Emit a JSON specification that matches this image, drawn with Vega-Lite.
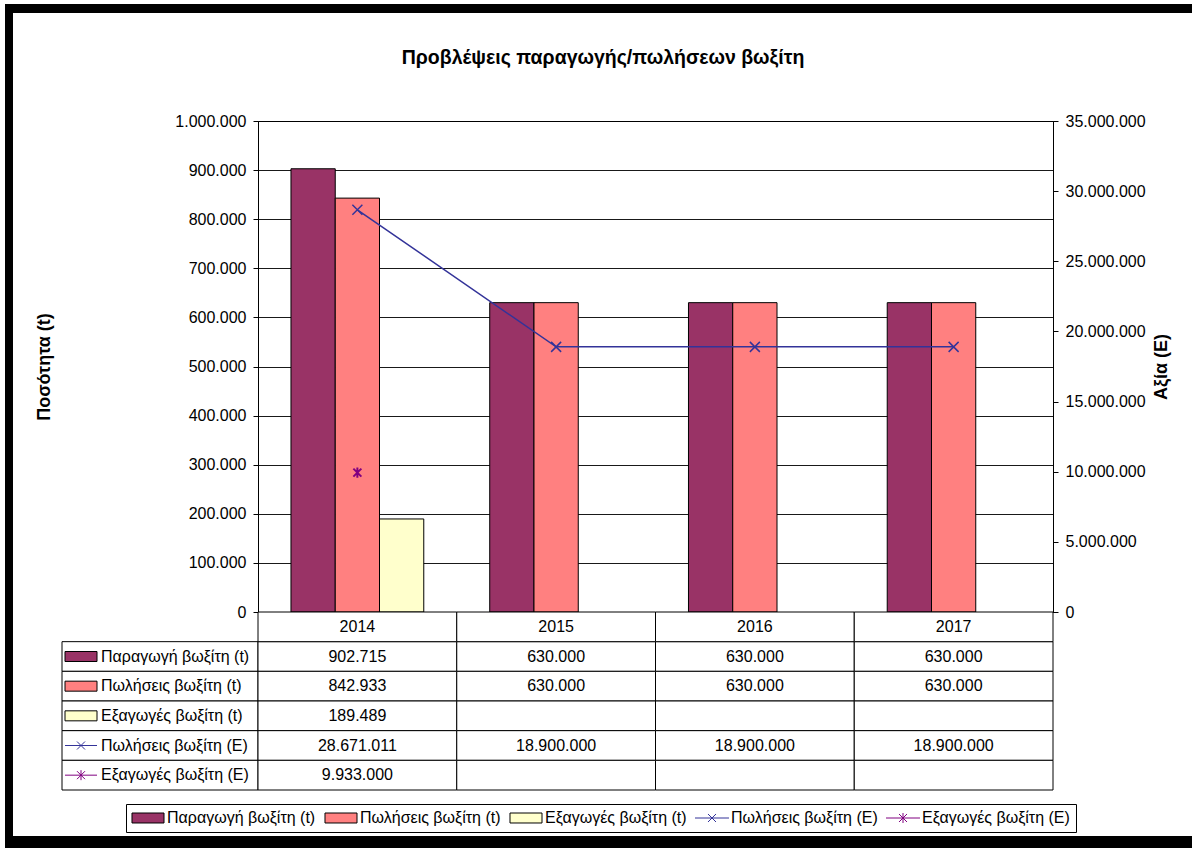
{
  "$schema": "https://vega.github.io/schema/vega-lite/v6.json",
  "padding": {"left": 5, "top": 4, "right": 0, "bottom": 0},
  "background": "white",
  "config": {
    "font": "Liberation Sans",
    "view": {"stroke": null},
    "locale": {"number": {"decimal": ",", "thousands": ".", "grouping": [3], "currency": ["", " €"]}},
    "axis": {"labelFont": "Liberation Sans", "titleFont": "Liberation Sans", "labelColor": "black", "titleColor": "black", "labelFontSize": 16, "titleFontSize": 16, "domainColor": "black", "tickColor": "black"},
    "text": {"font": "Liberation Sans"}
  },
  "datasets": {
    "main": [
      {"year": "2014", "series": "Παραγωγή βωξίτη (t)", "value": 902715},
      {"year": "2014", "series": "Πωλήσεις βωξίτη (t)", "value": 842933},
      {"year": "2014", "series": "Εξαγωγές βωξίτη (t)", "value": 189489},
      {"year": "2014", "series": "Πωλήσεις βωξίτη (Ε)", "value": 28671011},
      {"year": "2014", "series": "Εξαγωγές βωξίτη (Ε)", "value": 9933000},
      {"year": "2015", "series": "Παραγωγή βωξίτη (t)", "value": 630000},
      {"year": "2015", "series": "Πωλήσεις βωξίτη (t)", "value": 630000},
      {"year": "2015", "series": "Εξαγωγές βωξίτη (t)", "value": null},
      {"year": "2015", "series": "Πωλήσεις βωξίτη (Ε)", "value": 18900000},
      {"year": "2015", "series": "Εξαγωγές βωξίτη (Ε)", "value": null},
      {"year": "2016", "series": "Παραγωγή βωξίτη (t)", "value": 630000},
      {"year": "2016", "series": "Πωλήσεις βωξίτη (t)", "value": 630000},
      {"year": "2016", "series": "Εξαγωγές βωξίτη (t)", "value": null},
      {"year": "2016", "series": "Πωλήσεις βωξίτη (Ε)", "value": 18900000},
      {"year": "2016", "series": "Εξαγωγές βωξίτη (Ε)", "value": null},
      {"year": "2017", "series": "Παραγωγή βωξίτη (t)", "value": 630000},
      {"year": "2017", "series": "Πωλήσεις βωξίτη (t)", "value": 630000},
      {"year": "2017", "series": "Εξαγωγές βωξίτη (t)", "value": null},
      {"year": "2017", "series": "Πωλήσεις βωξίτη (Ε)", "value": 18900000},
      {"year": "2017", "series": "Εξαγωγές βωξίτη (Ε)", "value": null}
    ],
    "series": [
      {"series": "Παραγωγή βωξίτη (t)"},
      {"series": "Πωλήσεις βωξίτη (t)"},
      {"series": "Εξαγωγές βωξίτη (t)"},
      {"series": "Πωλήσεις βωξίτη (Ε)"},
      {"series": "Εξαγωγές βωξίτη (Ε)"}
    ],
    "years": [{"year": "2014"}, {"year": "2015"}, {"year": "2016"}, {"year": "2017"}]
  },
  "resolve": {"legend": {"fill": "independent"}},
  "spacing": 0,
  "vconcat": [
    {
      "width": 1187, "height": 9,
      "data": {"values": [{"part": "frame-top"}]},
      "mark": {"type": "rect", "fill": "black"},
      "encoding": {}
    },
    {
      "spacing": 22,
      "resolve": {"legend": {"fill": "independent"}},
      "hconcat": [
        {
          "width": 8, "height": 823,
          "data": {"values": [{"part": "frame-left"}]},
          "mark": {"type": "rect", "fill": "black"},
          "encoding": {}
        },
        {
          "spacing": 9,
          "resolve": {"legend": {"fill": "independent"}},
          "vconcat": [
            {
              "width": 1082, "height": 90,
              "data": {"values": [{"title": "Προβλέψεις παραγωγής/πωλήσεων βωξίτη"}]},
              "mark": {"type": "text", "fontSize": 19.5, "fontWeight": "bold", "color": "black", "baseline": "middle", "align": "center", "dy": 0},
              "encoding": {"text": {"field": "title"}}
            },
            {
              "columns": 2,
              "spacing": 0,
              "bounds": "flush",
              "align": "each",
              "concat": [
                {
                  "width": 196, "height": 491,
                  "data": {"values": [{"part": "spacer"}]},
                  "mark": {"type": "rect", "opacity": 0},
                  "encoding": {}
                },
                {
                  "width": 795, "height": 491,
                  "view": {"stroke": "black", "strokeWidth": 1},
                  "data": {"name": "main"},
                  "resolve": {"scale": {"y": "independent"}},
                  "layer": [
                    {
                      "transform": [{"filter": {"field": "series", "oneOf": ["Παραγωγή βωξίτη (t)", "Πωλήσεις βωξίτη (t)", "Εξαγωγές βωξίτη (t)"]}}],
                      "mark": {"type": "bar", "stroke": "black", "strokeWidth": 1},
                      "encoding": {
                        "x": {"field": "year", "type": "nominal", "axis": null, "scale": {"domain": ["2014", "2015", "2016", "2017"], "paddingInner": 0, "paddingOuter": 0}},
                        "xOffset": {"field": "series", "type": "nominal", "scale": {"domain": ["Παραγωγή βωξίτη (t)", "Πωλήσεις βωξίτη (t)", "Εξαγωγές βωξίτη (t)"], "paddingInner": 0, "paddingOuter": 0.745}},
                        "y": {
                          "field": "value", "type": "quantitative",
                          "scale": {"domain": [0, 1000000], "nice": false},
                          "axis": {
                            "orient": "left", "title": "Ποσότητα (t)", "titleFontWeight": "bold", "titleFontSize": 18, "titlePadding": 121,
                            "values": [0, 100000, 200000, 300000, 400000, 500000, 600000, 700000, 800000, 900000, 1000000],
                            "format": ",d", "grid": true, "gridColor": "black", "gridWidth": 1, "gridOpacity": 0.9,
                            "tickSize": 5, "labelPadding": 7, "domainColor": "black"
                          }
                        },
                        "fill": {
                          "field": "series", "type": "nominal", "legend": null,
                          "scale": {"domain": ["Παραγωγή βωξίτη (t)", "Πωλήσεις βωξίτη (t)", "Εξαγωγές βωξίτη (t)", "Πωλήσεις βωξίτη (Ε)", "Εξαγωγές βωξίτη (Ε)"], "range": ["#993366", "#FF8080", "#FFFFCC", "transparent", "transparent"]}
                        }
                      }
                    },
                    {
                      "encoding": {
                        "x": {"field": "year", "type": "nominal", "axis": null},
                        "y": {
                          "field": "value", "type": "quantitative",
                          "scale": {"domain": [0, 35000000], "nice": false},
                          "axis": {
                            "orient": "right", "title": "Αξία (Ε)", "titleFontWeight": "bold", "titleFontSize": 18, "titleAngle": 270, "titleBaseline": "top", "titlePadding": 7,
                            "values": [0, 5000000, 10000000, 15000000, 20000000, 25000000, 30000000, 35000000],
                            "format": ",d", "grid": false, "tickSize": 5, "labelPadding": 7
                          }
                        }
                      },
                      "layer": [
                        {
                          "transform": [{"filter": {"field": "series", "equal": "Πωλήσεις βωξίτη (Ε)"}}],
                          "mark": {"type": "line", "color": "#333399", "strokeWidth": 1.5}
                        },
                        {
                          "transform": [{"filter": {"field": "series", "equal": "Πωλήσεις βωξίτη (Ε)"}}],
                          "mark": {"type": "point", "shape": "M-1,-1L1,1M-1,1L1,-1", "size": 100, "filled": false, "stroke": "#333399", "strokeWidth": 1.5, "opacity": 1}
                        },
                        {
                          "transform": [{"filter": {"field": "series", "equal": "Εξαγωγές βωξίτη (Ε)"}}],
                          "mark": {"type": "point", "shape": "M-1,-1L1,1M-1,1L1,-1M0,-1.3V1.3", "size": 64, "filled": false, "stroke": "#800080", "strokeWidth": 2, "opacity": 1}
                        }
                      ]
                    }
                  ]
                },
                {
                  "width": 196, "height": 178,
                  "data": {"name": "series"},
                  "encoding": {
                    "y": {"field": "series", "type": "nominal", "axis": null, "scale": {"domain": ["header", "Παραγωγή βωξίτη (t)", "Πωλήσεις βωξίτη (t)", "Εξαγωγές βωξίτη (t)", "Πωλήσεις βωξίτη (Ε)", "Εξαγωγές βωξίτη (Ε)"], "paddingInner": 0, "paddingOuter": 0}}
                  },
                  "layer": [
                    {"mark": {"type": "rect", "fill": "white", "stroke": "black", "strokeWidth": 1}},
                    {
                      "mark": {"type": "point", "size": 1600, "xOffset": -79, "strokeWidth": 1, "opacity": 1, "filled": true},
                      "encoding": {
                        "shape": {
                          "field": "series", "type": "nominal", "legend": null,
                          "scale": {"domain": ["Παραγωγή βωξίτη (t)", "Πωλήσεις βωξίτη (t)", "Εξαγωγές βωξίτη (t)", "Πωλήσεις βωξίτη (Ε)", "Εξαγωγές βωξίτη (Ε)"], "range": ["M-0.8,-0.25H0.8V0.25H-0.8Z", "M-0.8,-0.25H0.8V0.25H-0.8Z", "M-0.8,-0.25H0.8V0.25H-0.8Z", "M-0.8,0H0.8M-0.2,-0.2L0.2,0.2M-0.2,0.2L0.2,-0.2", "M-0.8,0H0.8M-0.2,-0.2L0.2,0.2M-0.2,0.2L0.2,-0.2M0,-0.25V0.25"]}
                        },
                        "fill": {
                          "field": "series", "type": "nominal", "legend": null,
                          "scale": {"domain": ["Παραγωγή βωξίτη (t)", "Πωλήσεις βωξίτη (t)", "Εξαγωγές βωξίτη (t)", "Πωλήσεις βωξίτη (Ε)", "Εξαγωγές βωξίτη (Ε)"], "range": ["#993366", "#FF8080", "#FFFFCC", "transparent", "transparent"]}
                        },
                        "stroke": {
                          "field": "series", "type": "nominal", "legend": null,
                          "scale": {"domain": ["Παραγωγή βωξίτη (t)", "Πωλήσεις βωξίτη (t)", "Εξαγωγές βωξίτη (t)", "Πωλήσεις βωξίτη (Ε)", "Εξαγωγές βωξίτη (Ε)"], "range": ["black", "black", "black", "#333399", "#800080"]}
                        }
                      }
                    },
                    {
                      "mark": {"type": "text", "align": "left", "baseline": "middle", "dx": -59, "fontSize": 16, "color": "black"},
                      "encoding": {"text": {"field": "series"}}
                    }
                  ]
                },
                {
                  "width": 795, "height": 178,
                  "layer": [
                    {
                      "data": {"name": "main"},
                      "mark": {"type": "rect", "fill": "white", "stroke": "black", "strokeWidth": 1},
                      "encoding": {
                        "x": {"field": "year", "type": "nominal", "axis": null, "scale": {"domain": ["2014", "2015", "2016", "2017"], "paddingInner": 0, "paddingOuter": 0}},
                        "y": {"field": "series", "type": "nominal", "axis": null, "scale": {"domain": ["header", "Παραγωγή βωξίτη (t)", "Πωλήσεις βωξίτη (t)", "Εξαγωγές βωξίτη (t)", "Πωλήσεις βωξίτη (Ε)", "Εξαγωγές βωξίτη (Ε)"], "paddingInner": 0, "paddingOuter": 0}}
                      }
                    },
                    {
                      "data": {"name": "main"},
                      "transform": [{"filter": {"field": "value", "valid": true}}],
                      "mark": {"type": "text", "fontSize": 16, "color": "black", "baseline": "middle", "align": "center"},
                      "encoding": {
                        "x": {"field": "year", "type": "nominal", "axis": null},
                        "y": {"field": "series", "type": "nominal", "axis": null},
                        "text": {"field": "value", "type": "quantitative", "format": ",d"}
                      }
                    },
                    {
                      "data": {"name": "years"},
                      "mark": {"type": "rect", "fill": "white", "stroke": "black", "strokeWidth": 1},
                      "encoding": {
                        "x": {"field": "year", "type": "nominal", "axis": null},
                        "y": {"datum": "header", "type": "nominal", "axis": null}
                      }
                    },
                    {
                      "data": {"name": "years"},
                      "mark": {"type": "text", "fontSize": 16, "color": "black", "baseline": "middle", "align": "center"},
                      "encoding": {
                        "x": {"field": "year", "type": "nominal", "axis": null},
                        "y": {"datum": "header", "type": "nominal", "axis": null},
                        "text": {"field": "year"}
                      }
                    }
                  ]
                }
              ]
            },
            {
              "spacing": 0,
              "bounds": "flush",
              "resolve": {"legend": {"fill": "independent"}},
              "hconcat": [
                {
                  "width": 64, "height": 1,
                  "data": {"values": [{"part": "spacer"}]},
                  "mark": {"type": "rect", "opacity": 0},
                  "encoding": {}
                },
                {
                  "width": 900, "height": 1,
                  "data": {"name": "series"},
                  "mark": {"type": "point", "opacity": 0, "filled": true},
                  "encoding": {
                    "fill": {
                      "field": "series", "type": "nominal",
                      "scale": {"domain": ["Παραγωγή βωξίτη (t)", "Πωλήσεις βωξίτη (t)", "Εξαγωγές βωξίτη (t)", "Πωλήσεις βωξίτη (Ε)", "Εξαγωγές βωξίτη (Ε)"], "range": ["#993366", "#FF8080", "#FFFFCC", "transparent", "transparent"]},
                      "legend": {
                        "orient": "bottom", "direction": "horizontal", "columns": 5, "offset": 0, "padding": 6,
                        "title": null, "strokeColor": "black", "fillColor": "white",
                        "labelFontSize": 16, "labelFont": "Liberation Sans", "labelColor": "black", "labelLimit": 400,
                        "labelOffset": 11, "columnPadding": 6,
                        "symbolSize": 144, "symbolOffset": 8, "symbolStrokeWidth": 1, "symbolOpacity": 1,
                        "symbolType": {"expr": "datum.index < 3 ? 'M-2.667,-0.833H2.667V0.833H-2.667Z' : datum.index == 3 ? 'M-2.833,0H2.833M-0.667,-0.667L0.667,0.667M-0.667,0.667L0.667,-0.667' : 'M-2.833,0H2.833M-0.667,-0.667L0.667,0.667M-0.667,0.667L0.667,-0.667M0,-0.833V0.833'"},
                        "symbolStrokeColor": {"expr": "datum.index == 3 ? '#333399' : datum.index == 4 ? '#800080' : 'black'"}
                      }
                    }
                  }
                }
              ]
            }
          ]
        }
      ]
    },
    {
      "width": 1187, "height": 14,
      "data": {"values": [{"part": "frame-bottom"}]},
      "mark": {"type": "rect", "fill": "black"},
      "encoding": {}
    }
  ]
}
